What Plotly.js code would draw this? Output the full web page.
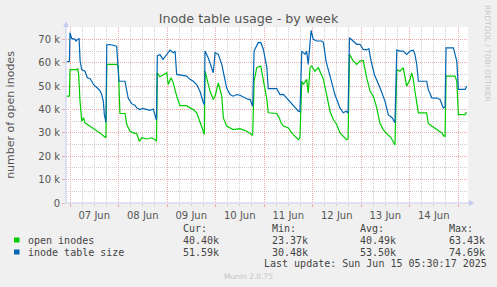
<!DOCTYPE html>
<html><head><meta charset="utf-8">
<script src="https://cdn.plot.ly/plotly-3.0.1.min.js"></script>
<style>html,body{margin:0;padding:0;background:#F0F0F0;} #chart{width:497px;height:287px;}</style>
</head><body><div id="chart"></div>
<script>
// Time axis: hours after 2025-06-07 00:00
const openHours = [-1.6,-0.3,0,1.6,3.3,3.8,4.3,4.9,5.2,5.8,6.7,7.4,8.6,9.9,11.5,13.2,14.8,16.5,17.8,18.2,23.1,23.9,24.7,27.2,28.1,29.7,31.3,33,34.3,35.5,38,40.4,42.1,42.8,43.2,44.5,46.2,47.9,48.6,50,51.1,52.8,54.4,57.7,59.4,61,62.7,64.3,66,66.5,66.8,68.4,69.3,70.9,71.8,73.4,75.1,75.9,77.5,80.8,84.1,87.4,89.9,90.4,91.1,92.4,94.4,95.7,97.4,98.1,102.3,103.6,104.4,105.6,108.1,109.7,111.3,113,113.8,114.7,115.5,117.1,117.9,118.8,119.6,121.2,122.9,123.7,125.4,127,128.7,130.3,132,133.6,135.2,136.9,137.6,138.3,140.2,141.9,143.5,145.1,146.8,148.5,150.1,151.8,153.4,154.9,156.9,158.8,160.8,161.7,163.3,164.9,165.8,166.6,167.4,168.3,169.1,169.9,170.7,171.6,172.4,176.5,177.3,179,181.5,184,185.1,185.6,186.1,190.5,191.4,192.2,195.5,196.3];
const openInodes = [45.7,45.7,57.1,57.0,57.1,57.4,55.0,44.3,39.3,35.0,36.5,34.3,33.6,32.9,31.8,31.1,30.0,28.8,27.9,59.3,59.3,58.6,38.3,38.3,33.6,30.7,30.0,29.7,26.4,27.9,27.4,27.9,27.1,26.4,55.7,54.0,55.0,55.7,50.7,53.6,51.4,45.7,41.7,41.7,40.7,40.0,38.6,34.3,30.0,29.3,56.4,51.4,47.8,44.3,45.7,51.4,45.7,36.4,32.9,31.4,31.8,30.7,29.3,29.0,52.0,57.9,58.6,52.9,44.3,38.6,38.3,36.4,34.3,32.9,32.1,30.0,28.6,27.1,27.9,52.1,50.7,52.9,47.1,57.9,58.6,56.4,57.9,56.4,52.9,46.4,39.0,35.7,33.6,30.0,28.6,27.1,27.5,63.6,60.7,59.3,60.7,61.0,53.6,47.8,45.7,40.7,34.0,31.5,29.5,28.0,24.8,57.1,56.4,57.9,53.6,50.0,51.4,52.9,55.7,52.9,47.8,43.5,38.6,38.6,34.0,32.9,31.4,30.0,28.6,28.5,54.3,54.3,52.1,37.8,37.8,38.9];

const sizeHours = [-1.6,-0.3,0,0.8,2.5,3,3.8,4.5,5,5.8,7.4,8.6,9.9,10.7,11.9,13.2,14.8,15.7,16.5,17,17.5,17.8,18.2,19.8,23.1,24.2,27.2,27.7,28.8,30.5,32.2,33,34.6,36.1,38,39.6,41.2,42.1,42.8,43.2,44.5,46,47.9,49.5,51.1,52,52.8,57.7,59.4,61,62.7,64.3,66,66.5,66.8,68.4,70.9,71.8,73.4,75.1,77.5,79.2,80.8,82.5,84.1,86.6,88.2,89.1,90.4,91.1,93.1,94.4,95.7,97.4,98.1,102.3,103.9,105.6,107.2,108.9,110.5,113,113.8,114.7,116.3,117.1,117.9,118.8,119.3,120.4,122.1,124.5,125.4,126.7,127.8,129.5,131.1,133.6,135.2,136.6,137.6,138.3,140.2,141.9,143.5,145.1,146.8,147.9,149,150.6,153.4,155.9,157.5,158.7,159.5,160.8,161.7,163.3,164.9,166.6,168.3,169.9,170.7,171.6,172.4,176.5,177.3,179,181.5,183.1,184.7,185.6,186.1,189.7,191.4,192.2,195.5,196.3];
const inodeTableSize = [60.4,60.6,72.9,70.4,70.0,69.3,70.0,70.3,60.7,57.1,56.4,53.6,53.3,52.1,50.4,49.5,48.1,46.4,43.5,37.8,35.0,34.5,67.7,67.8,67.1,52.1,52.1,49.7,44.9,42.5,41.7,40.7,40.0,40.5,40.0,39.6,40.2,37.8,35.5,62.9,63.5,61.4,63.6,65.4,64.3,64.8,55.0,54.3,52.9,52.1,50.7,47.8,42.9,42.0,65.0,62.1,55.7,64.3,63.6,59.3,49.3,46.4,45.7,46.4,46.1,45.0,44.3,44.3,41.4,65.0,68.6,68.7,65.7,57.9,48.9,48.9,46.4,46.5,45.0,43.5,41.7,39.3,39.1,65.0,63.6,65.0,59.3,67.1,73.8,70.0,69.3,69.3,68.6,60.7,57.1,51.4,46.4,40.7,38.6,39.3,38.5,70.7,69.3,67.9,67.9,65.7,65.5,66.0,60.7,55.0,49.3,43.5,37.8,37.0,36.4,34.3,65.4,65.0,65.0,63.6,65.0,65.4,63.6,59.3,52.1,52.1,48.6,45.0,44.9,44.3,40.7,41.0,66.4,66.4,60.7,48.6,48.6,50.0];

const yTickVals = [0,10,20,30,40,50,60,70];
const yTickText = ['0','10 k','20 k','30 k','40 k','50 k','60 k','70 k'];
const seriesNames = ['open inodes','inode table size'];
const statHeaders = ['Cur:','Min:','Avg:','Max:'];
const openStats = ['40.40k','23.37k','40.49k','63.43k'];
const sizeStats = ['51.59k','30.48k','53.50k','74.69k'];
const titleText = 'Inode table usage - by week';
const yTitleText = 'number of open inodes';
const lastUpdate = 'Last update: Sun Jun 15 05:30:17 2025';
const sideText = 'RRDTOOL / TOBI OETIKER';
const footerText = 'Munin 2.0.75';

const base = Date.UTC(2025,5,7,0,0,0);
const toTime = h => new Date(base + h*3600000).toISOString().slice(0,19).replace('T',' ');

const L=66, R=468, T=27, B=203;
const px2x = p => (p-L)/(R-L);
const px2y = p => (B-p)/(B-T);
const GREEN='#00CC00', BLUE='#0066B3';
const mono = {family:'DejaVu Sans Mono', size:10, color:'#444'};

const traces = [
  {x: openHours.map(toTime), y: openInodes, type:'scatter', mode:'lines', line:{color:GREEN, width:1.2}, name:seriesNames[0], hoverinfo:'skip', showlegend:false},
  {x: sizeHours.map(toTime), y: inodeTableSize, type:'scatter', mode:'lines', line:{color:BLUE, width:1.2}, name:seriesNames[1], hoverinfo:'skip', showlegend:false}
];

const ann = [];
const colX = [181, 269.5, 358, 447];
statHeaders.forEach((h,i)=>ann.push({text:h, x:px2x(colX[i]), y:px2y(228), xref:'paper', yref:'paper', xanchor:'left', yanchor:'middle', showarrow:false, font:mono}));
openStats.forEach((v,i)=>ann.push({text:v, x:px2x(colX[i]), y:px2y(240), xref:'paper', yref:'paper', xanchor:'left', yanchor:'middle', showarrow:false, font:mono}));
sizeStats.forEach((v,i)=>ann.push({text:v, x:px2x(colX[i]), y:px2y(252), xref:'paper', yref:'paper', xanchor:'left', yanchor:'middle', showarrow:false, font:mono}));
ann.push({text:seriesNames[0], x:px2x(26), y:px2y(240), xref:'paper', yref:'paper', xanchor:'left', yanchor:'middle', showarrow:false, font:mono});
ann.push({text:seriesNames[1], x:px2x(26), y:px2y(252), xref:'paper', yref:'paper', xanchor:'left', yanchor:'middle', showarrow:false, font:mono});
ann.push({text:lastUpdate, x:px2x(262), y:px2y(263.5), xref:'paper', yref:'paper', xanchor:'left', yanchor:'middle', showarrow:false, font:mono});
ann.push({text:footerText, x:px2x(248), y:px2y(276), xref:'paper', yref:'paper', xanchor:'center', yanchor:'middle', showarrow:false, font:{family:'DejaVu Sans', size:7.5, color:'#c4c4c4'}});
ann.push({text:sideText, x:px2x(488), y:px2y(53), xref:'paper', yref:'paper', xanchor:'center', yanchor:'middle', textangle:90, showarrow:false, font:{family:'DejaVu Sans', size:7.5, color:'#c8c8c8'}});

const axisCol = '#c3cbee';
const shapes = [
  {type:'rect', xref:'paper', yref:'paper', x0:px2x(14), x1:px2x(19.5), y0:px2y(242.5), y1:px2y(237.5), fillcolor:GREEN, line:{width:0}},
  {type:'rect', xref:'paper', yref:'paper', x0:px2x(14), x1:px2x(19.5), y0:px2y(254.5), y1:px2y(249.5), fillcolor:BLUE, line:{width:0}},
  {type:'line', xref:'paper', yref:'paper', x0:0, x1:0, y0:0, y1:px2y(24), line:{color:axisCol, width:1}},
  {type:'path', xref:'paper', yref:'paper', path:`M ${px2x(63)} ${px2y(27)} L ${px2x(69)} ${px2y(27)} L ${px2x(66)} ${px2y(21.5)} Z`, fillcolor:axisCol, line:{width:0}},
  {type:'line', xref:'paper', yref:'paper', x0:0, x1:px2x(471), y0:0, y1:0, line:{color:axisCol, width:1}},
  {type:'path', xref:'paper', yref:'paper', path:`M ${px2x(469)} ${px2y(200)} L ${px2x(469)} ${px2y(206)} L ${px2x(474.5)} ${px2y(203)} Z`, fillcolor:axisCol, line:{width:0}}
];

const majorGrid = '#eba9a9';
const minorGrid = '#cfcfcf';
const layout = {
  width:497, height:287,
  paper_bgcolor:'#F0F0F0', plot_bgcolor:'#FFFFFF',
  margin:{l:L, r:497-R, t:T, b:287-B, pad:0},
  title:{text:titleText, x:0.5, xref:'container', xanchor:'center', y:1-18.5/287, yref:'container', yanchor:'middle', font:{family:'DejaVu Sans', size:12.7, color:'#555'}},
  xaxis:{type:'date', range:[toTime(-1.98), toTime(196.95)], tick0:'2025-06-07', dtick:86400000, tickformat:'%d %b', ticklabelmode:'period',
    showgrid:true, gridcolor:majorGrid, griddash:'1px,1px', gridwidth:1, zeroline:false, showline:false,
    ticks:'outside', ticklen:3, tickcolor:'#eba9a9', tickfont:{family:'DejaVu Sans', size:10, color:'#555'},
    minor:{tick0:'2025-06-07', dtick:6*3600000, showgrid:true, gridcolor:minorGrid, griddash:'1px,1px', ticks:'outside', ticklen:2, tickcolor:'#cfcfcf'},
    fixedrange:true},
  yaxis:{range:[0,75.3], tickvals:yTickVals, ticktext:yTickText, showgrid:true, gridcolor:majorGrid, griddash:'1px,1px', zeroline:false, showline:false,
    ticks:'outside', ticklen:3, tickcolor:'#eba9a9', tickfont:{family:'DejaVu Sans', size:10, color:'#555'},
    minor:{dtick:5, showgrid:true, gridcolor:minorGrid, griddash:'1px,1px'},
    title:{text:yTitleText, standoff:21, font:{family:'DejaVu Sans', size:11, color:'#555'}}, automargin:false, fixedrange:true},
  annotations:ann, shapes:shapes, showlegend:false
};
Plotly.newPlot('chart', traces, layout, {displayModeBar:false, staticPlot:true});
</script></body></html>
